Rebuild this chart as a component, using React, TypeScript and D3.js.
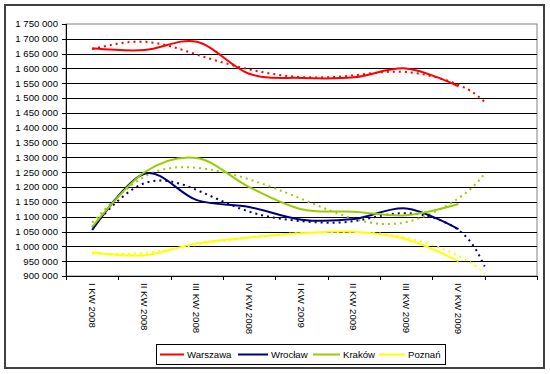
import React from "react";
import * as d3 from "d3";

const categories = ["I KW 2008", "II KW 2008", "III KW 2008", "IV KW 2008", "I KW 2009", "II KW 2009", "III KW 2009", "IV KW 2009", ""];
const seriesNames = ["Warszawa", "Wrocław", "Kraków", "Poznań"];
const seriesColors = ["#FF0000", "#000080", "#99CC00", "#FFFF00"];

const warszawa = [1668000, 1662000, 1690000, 1582000, 1568000, 1570000, 1600000, 1540000];
const wroclaw = [1055000, 1245000, 1156000, 1133000, 1090000, 1092000, 1128000, 1058000];
const krakow = [1066000, 1250000, 1298000, 1200000, 1125000, 1117000, 1105000, 1143000];
const poznan = [980000, 970000, 1010000, 1030000, 1044000, 1049000, 1024000, 950000];

// trendline positions (category index) incl. forward forecast of half a period
const trendPositions = [0, 1, 2, 3, 4, 5, 6, 7, 7.5];
const warszawaTrend = [1665000, 1690000, 1647000, 1597000, 1571000, 1577000, 1588000, 1545000, 1487000];
const wroclawTrend = [1065000, 1213000, 1190000, 1117000, 1085000, 1085000, 1112000, 1055000, 932000];
const krakowTrend = [1080000, 1235000, 1265000, 1226000, 1160000, 1093000, 1082000, 1162000, 1245000];
const poznanTrend = [975000, 978000, 1005000, 1030000, 1045000, 1047000, 1030000, 968000, 908000];

const yTicks = d3.range(900000, 1750001, 50000);

const seriesValues = [warszawa, wroclaw, krakow, poznan];
const trendValues = [warszawaTrend, wroclawTrend, krakowTrend, poznanTrend];

const fmt = d3.formatLocale({ thousands: " ", grouping: [3], decimal: ",", currency: ["", ""] }).format(",d");

export default function App() {
  const W = 550, H = 374;
  const left = 66, right = 537, top = 24, bottom = 276;
  const x = d3.scaleBand<number>().domain(d3.range(categories.length)).range([left, right]);
  const bw = x.bandwidth();
  const cx = (i: number) => left + bw * (i + 0.5);
  const y = d3.scaleLinear().domain([900000, 1750000]).range([bottom, top]);
  const font = "'Liberation Sans', Arial, sans-serif";

  const lineSolid = d3.line<number>().x((_, i) => cx(i)).y((d) => y(d)).curve(d3.curveCardinal.tension(0));
  const lineTrend = d3.line<[number, number]>().x((d) => cx(d[0])).y((d) => y(d[1])).curve(d3.curveNatural);

  const legendItems = [
    { lx: 160, tx: 187 },
    { lx: 238, tx: 271 },
    { lx: 313, tx: 343 },
    { lx: 379, tx: 408 },
  ];
  const legendLen = [24, 30, 27, 26];

  return (
    <svg width={W} height={H} style={{ position: "absolute", left: 0, top: 0, background: "#fff" }} fontFamily={font}>
      <rect x={0} y={0} width={W} height={H} fill="#fff" />
      <rect x={5} y={5} width={539} height={363} fill="#fff" stroke="#404040" strokeWidth={2} />
      {/* plot area */}
      <rect x={left} y={top} width={right - left} height={bottom - top} fill="#fff" stroke="#808080" strokeWidth={1} />
      {yTicks.map((t) => (
        <g key={t}>
          {t !== 1750000 && t !== 900000 && (
            <line x1={left} x2={right} y1={Math.round(y(t)) + 0.5} y2={Math.round(y(t)) + 0.5} stroke="#000" strokeWidth={1} />
          )}
          <line x1={left - 4} x2={left} y1={Math.round(y(t)) + 0.5} y2={Math.round(y(t)) + 0.5} stroke="#000" />
          <text x={58} y={y(t)} dy="0.35em" textAnchor="end" fontSize={9.6} fill="#000">
            {fmt(t)}
          </text>
        </g>
      ))}
      {/* axes */}
      <line x1={left + 0.5} x2={left + 0.5} y1={top} y2={bottom + 0.5} stroke="#000" />
      <line x1={left} x2={right} y1={bottom + 0.5} y2={bottom + 0.5} stroke="#000" />
      {d3.range(categories.length + 1).map((i) => (
        <line key={i} x1={Math.round(left + bw * i) + 0.5} x2={Math.round(left + bw * i) + 0.5} y1={bottom} y2={bottom + 4} stroke="#000" />
      ))}
      {categories.map((c, i) => (
        <text key={i} transform={`translate(${cx(i)},283) rotate(90)`} fontSize={9.6} dy="0.35em" textAnchor="start" fill="#000">
          {c}
        </text>
      ))}
      {/* trendlines */}
      {trendValues.map((vals, s) => (
        <path
          key={"t" + s}
          d={lineTrend(vals.map((v, i) => [trendPositions[i], v] as [number, number])) || ""}
          fill="none"
          stroke={seriesColors[s]}
          strokeWidth={2}
          strokeDasharray="2,4"
        />
      ))}
      {/* series */}
      {seriesValues.map((vals, s) => (
        <path key={"s" + s} d={lineSolid(vals) || ""} fill="none" stroke={seriesColors[s]} strokeWidth={2} />
      ))}
      {/* legend */}
      <rect x={156.5} y={344.5} width={289} height={20} fill="#fff" stroke="#000" />
      {seriesNames.map((n, s) => (
        <g key={n}>
          <line x1={legendItems[s].lx} x2={legendItems[s].lx + legendLen[s]} y1={354.5} y2={354.5} stroke={seriesColors[s]} strokeWidth={2} />
          <text x={legendItems[s].tx} y={354.5} dy="0.35em" fontSize={9.6} fill="#000">
            {n}
          </text>
        </g>
      ))}
    </svg>
  );
}
